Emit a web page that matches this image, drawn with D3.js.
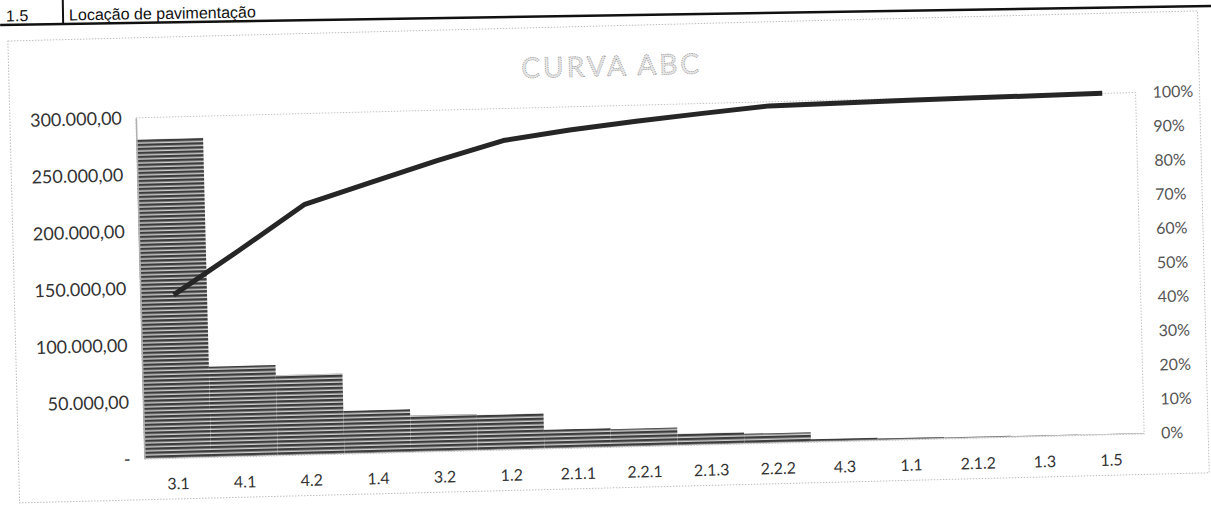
<!DOCTYPE html>
<html>
<head>
<meta charset="utf-8">
<script src="https://cdn.jsdelivr.net/npm/d3@7/dist/d3.min.js"></script>
<style>
  body { margin: 0; background: #fff; }
  svg { display: block; }
</style>
</head>
<body>
<svg id="chart" width="1211" height="507"></svg>
<script>
// Dados
var categorias = ["3.1", "4.1", "4.2", "1.4", "3.2", "1.2", "2.1.1", "2.2.1", "2.1.3", "2.2.2", "4.3", "1.1", "2.1.2", "1.3", "1.5"];
var valores    = [281000, 79500, 70500, 37500, 32000, 31000, 16500, 15500, 10000, 8500, 2200, 1400, 900, 600, 300];
var acumulado  = [0.478, 0.604, 0.734, 0.793, 0.852, 0.906, 0.932, 0.953, 0.971, 0.988, 0.991, 0.994, 0.996, 0.998, 1.0];
var ticksValor = [0, 50000, 100000, 150000, 200000, 250000, 300000];
var ticksPerc  = [0, 0.1, 0.2, 0.3, 0.4, 0.5, 0.6, 0.7, 0.8, 0.9, 1.0];

// Layout
var W = 1211, H = 507;
var plot = { left: 140, right: 1140, top: 106, bottom: 447 };
var fonte = "Lato, 'Open Sans', sans-serif";

var locale = d3.formatLocale({ decimal: ",", thousands: ".", grouping: [3], currency: ["R$", ""] });
var fmtValor = function(d) { return d === 0 ? "-" : locale.format(",.2f")(d); };
var fmtPerc = d3.format(".0%");

var svg = d3.select("#chart");

// Cabecalho da tabela
var cab = svg.append("g").attr("transform", "rotate(-0.9, 605, 10)");
cab.append("text").attr("x", 6).attr("y", 12).attr("font-family", "'Liberation Sans', Arial, sans-serif")
  .attr("font-size", 16).attr("fill", "#111").text("1.5");
cab.append("line").attr("x1", 63).attr("x2", 63).attr("y1", -10).attr("y2", 15).attr("stroke", "#111").attr("stroke-width", 2);
cab.append("text").attr("x", 69).attr("y", 12).attr("font-family", "'Liberation Sans', Arial, sans-serif")
  .attr("font-size", 16).attr("fill", "#111").text("Locação de pavimentação");
cab.append("line").attr("x1", 0).attr("x2", W).attr("y1", 15.5).attr("y2", 15.5).attr("stroke", "#111").attr("stroke-width", 2.5);

// Grupo principal, levemente inclinado como na digitalizacao
var g = svg.append("g").attr("transform", "rotate(-1.45, 605, 275)");

// Padrao listrado das barras
var defs = svg.append("defs");
var pat = defs.append("pattern").attr("id", "listras").attr("patternUnits", "userSpaceOnUse")
  .attr("width", 8).attr("height", 4);
pat.append("rect").attr("width", 8).attr("height", 4).attr("fill", "#d0d0d0");
pat.append("rect").attr("y", 0).attr("width", 8).attr("height", 2.5).attr("fill", "#3c3c3c");

// Borda externa da area do grafico
g.append("rect").attr("x", 14).attr("y", 26).attr("width", 1190).attr("height", 462)
  .attr("fill", "none").attr("stroke", "#bdbdbd").attr("stroke-dasharray", "1.5,1.5");

// Escalas
var x = d3.scaleBand().domain(categorias).range([plot.left, plot.right]).paddingInner(0).paddingOuter(0);
var y = d3.scaleLinear().domain([0, 300000]).range([plot.bottom, plot.top]);
var y2 = d3.scaleLinear().domain([0, 1]).range([plot.bottom, plot.top]);

// Borda da area de plotagem
g.append("rect").attr("x", plot.left).attr("y", plot.top)
  .attr("width", plot.right - plot.left).attr("height", plot.bottom - plot.top)
  .attr("fill", "none").attr("stroke", "#c4c4c4").attr("stroke-dasharray", "1.5,1.5");

// Titulo
g.append("text").attr("x", 617).attr("y", 76).attr("text-anchor", "middle")
  .attr("font-family", fonte).attr("font-size", 28).attr("letter-spacing", 3)
  .attr("fill", "#e6e6e6").attr("stroke", "#9a9a9a").attr("stroke-width", 0.8)
  .attr("stroke-dasharray", "1.2,1").text("CURVA ABC");

// Barras
g.append("g").selectAll("rect").data(valores).enter().append("rect")
  .attr("x", function(d, i) { return x(categorias[i]); })
  .attr("y", function(d) { return y(d); })
  .attr("width", x.bandwidth())
  .attr("height", function(d) { return y(0) - y(d); })
  .attr("fill", "url(#listras)");

// Eixo esquerdo
var eixoY = g.append("g").attr("transform", "translate(" + plot.left + ",0)")
  .call(d3.axisLeft(y).tickValues(ticksValor).tickFormat(fmtValor).tickSize(0).tickPadding(14));
eixoY.select(".domain").attr("stroke", "#b0b0b0").attr("stroke-width", 1.5);
eixoY.selectAll("text").attr("font-family", fonte).attr("font-size", 18).attr("fill", "#333");

// Eixo direito
var eixoY2 = g.append("g").attr("transform", "translate(" + plot.right + ",0)")
  .call(d3.axisRight(y2).tickValues(ticksPerc).tickFormat(fmtPerc).tickSize(0).tickPadding(17));
eixoY2.select(".domain").remove();
eixoY2.selectAll("text").attr("font-family", fonte).attr("font-size", 16).attr("fill", "#555");

// Eixo das categorias
var eixoX = g.append("g").attr("transform", "translate(0," + plot.bottom + ")")
  .call(d3.axisBottom(x).tickSize(0).tickPadding(20));
eixoX.select(".domain").attr("stroke", "#c4c4c4").attr("stroke-dasharray", "1.5,1.5");
eixoX.selectAll("text").attr("font-family", fonte).attr("font-size", 16).attr("fill", "#333");

// Linha do acumulado
var linha = d3.line()
  .x(function(d, i) { return x(categorias[i]) + x.bandwidth() / 2; })
  .y(function(d) { return y2(d); });
g.append("path").datum(acumulado).attr("d", linha)
  .attr("fill", "none").attr("stroke", "#262626").attr("stroke-width", 5)
  .attr("stroke-linejoin", "round").attr("stroke-linecap", "butt");
</script>
</body>
</html>
